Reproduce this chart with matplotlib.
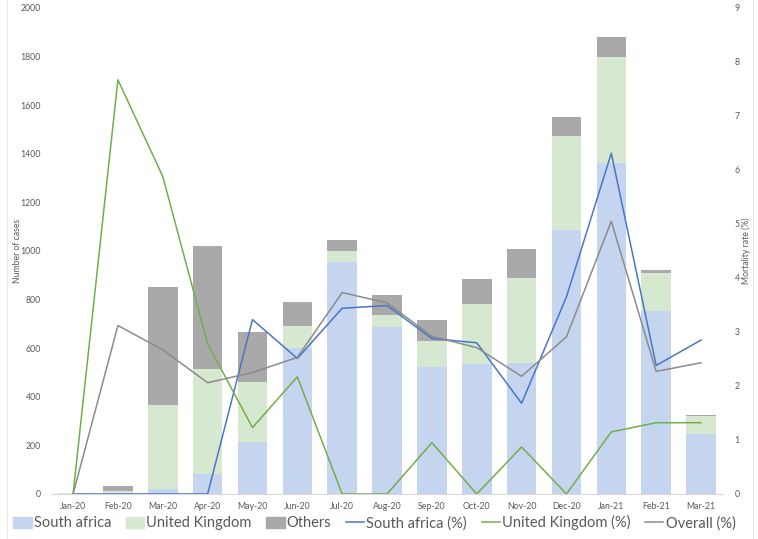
import numpy as np
import matplotlib
matplotlib.use("Agg")
import matplotlib.pyplot as plt
from matplotlib.patches import Patch
from matplotlib.lines import Line2D

plt.rcParams['font.family'] = ['Lato', 'DejaVu Sans']

months = ['Jan-20', 'Feb-20', 'Mar-20', 'Apr-20', 'May-20', 'Jun-20', 'Jul-20', 'Aug-20',
          'Sep-20', 'Oct-20', 'Nov-20', 'Dec-20', 'Jan-21', 'Feb-21', 'Mar-21']

# cases per month (stacked bars)
south_africa = [2, 3, 20, 82, 215, 600, 956, 689, 524, 534, 540, 1086, 1362, 754, 246]
united_kingdom = [4, 10, 345, 434, 246, 91, 45, 48, 104, 248, 348, 389, 435, 154, 75]
others = [0, 20, 485, 506, 206, 98, 44, 82, 88, 101, 121, 76, 82, 12, 5]

# mortality rate (%)
sa_rate = [0, 0, 0, 0, 3.23, 2.51, 3.44, 3.49, 2.88, 2.80, 1.68, 3.65, 6.31, 2.38, 2.85]
uk_rate = [0, 7.67, 5.88, 2.78, 1.23, 2.17, 0, 0, 0.95, 0, 0.87, 0, 1.15, 1.32, 1.32]
overall_rate = [0, 3.12, 2.67, 2.06, 2.25, 2.53, 3.73, 3.54, 2.92, 2.71, 2.18, 2.91, 5.05, 2.27, 2.43]

c_sa = '#c5d5ef'
c_uk = '#d6e8cf'
c_ot = '#a9a9a9'
l_sa = '#4a76c5'
l_uk = '#74ad4c'
l_ov = '#8c8c8c'
txt = '#595959'

fig = plt.figure(figsize=(7.58, 5.39), dpi=100)
ax = fig.add_axes([0.0668, 0.0835, 0.8876, 0.9017])
ax2 = ax.twinx()

x = np.arange(len(months))
sa = np.array(south_africa)
uk = np.array(united_kingdom)
ot = np.array(others)
w = 0.66
ax.bar(x, sa, w, color=c_sa, zorder=2)
ax.bar(x, uk, w, bottom=sa, color=c_uk, zorder=2)
ax.bar(x, ot, w, bottom=sa + uk, color=c_ot, zorder=2)

ax2.plot(x, sa_rate, color=l_sa, lw=1.1)
ax2.plot(x, uk_rate, color=l_uk, lw=1.1)
ax2.plot(x, overall_rate, color=l_ov, lw=1.1)

ax.set_xlim(-0.5, len(months) - 0.5)
ax.set_ylim(0, 2000)
ax.set_yticks(np.arange(0, 2001, 200))
ax2.set_ylim(0, 9)
ax2.set_yticks(range(0, 10))
ax.set_xticks(x)
ax.set_xticklabels(months)

for a in (ax, ax2):
    for s in a.spines.values():
        s.set_visible(False)
    a.tick_params(length=0, labelsize=6.3, labelcolor=txt)
ax.spines['bottom'].set_visible(True)
ax.spines['bottom'].set_color('#d9d9d9')
ax.tick_params(axis='y', pad=7)
ax.tick_params(axis='x', pad=6)
ax2.tick_params(axis='y', pad=8)

ax.set_ylabel('Number of cases', fontsize=6.2, color=txt, labelpad=-1)
ax2.set_ylabel('Mortality rate (%)', fontsize=6.2, color=txt, labelpad=1)

# faint frame edges of the original figure
fig.add_artist(Line2D([0.009, 0.009], [0.0, 1.0], color='#e8e8e8', lw=0.8))
fig.add_artist(Line2D([0.994, 0.994], [0.0, 1.0], color='#e8e8e8', lw=0.8))

handles = [Patch(color=c_sa), Patch(color=c_uk), Patch(color=c_ot),
           Line2D([], [], color=l_sa, lw=1.1), Line2D([], [], color=l_uk, lw=1.1),
           Line2D([], [], color=l_ov, lw=1.1)]
labels = ['South africa', 'United Kingdom', 'Others', 'South africa (%)',
          'United Kingdom (%)', 'Overall (%)']
leg = fig.legend(handles, labels, loc='center', bbox_to_anchor=(0.494, 0.03), ncol=6,
                 frameon=False, fontsize=10.5, handlelength=1.25, handleheight=0.8,
                 handletextpad=0.15, columnspacing=1.0, borderaxespad=0)
for t in leg.get_texts():
    t.set_color(txt)

fig.savefig('out.png', dpi=100)
